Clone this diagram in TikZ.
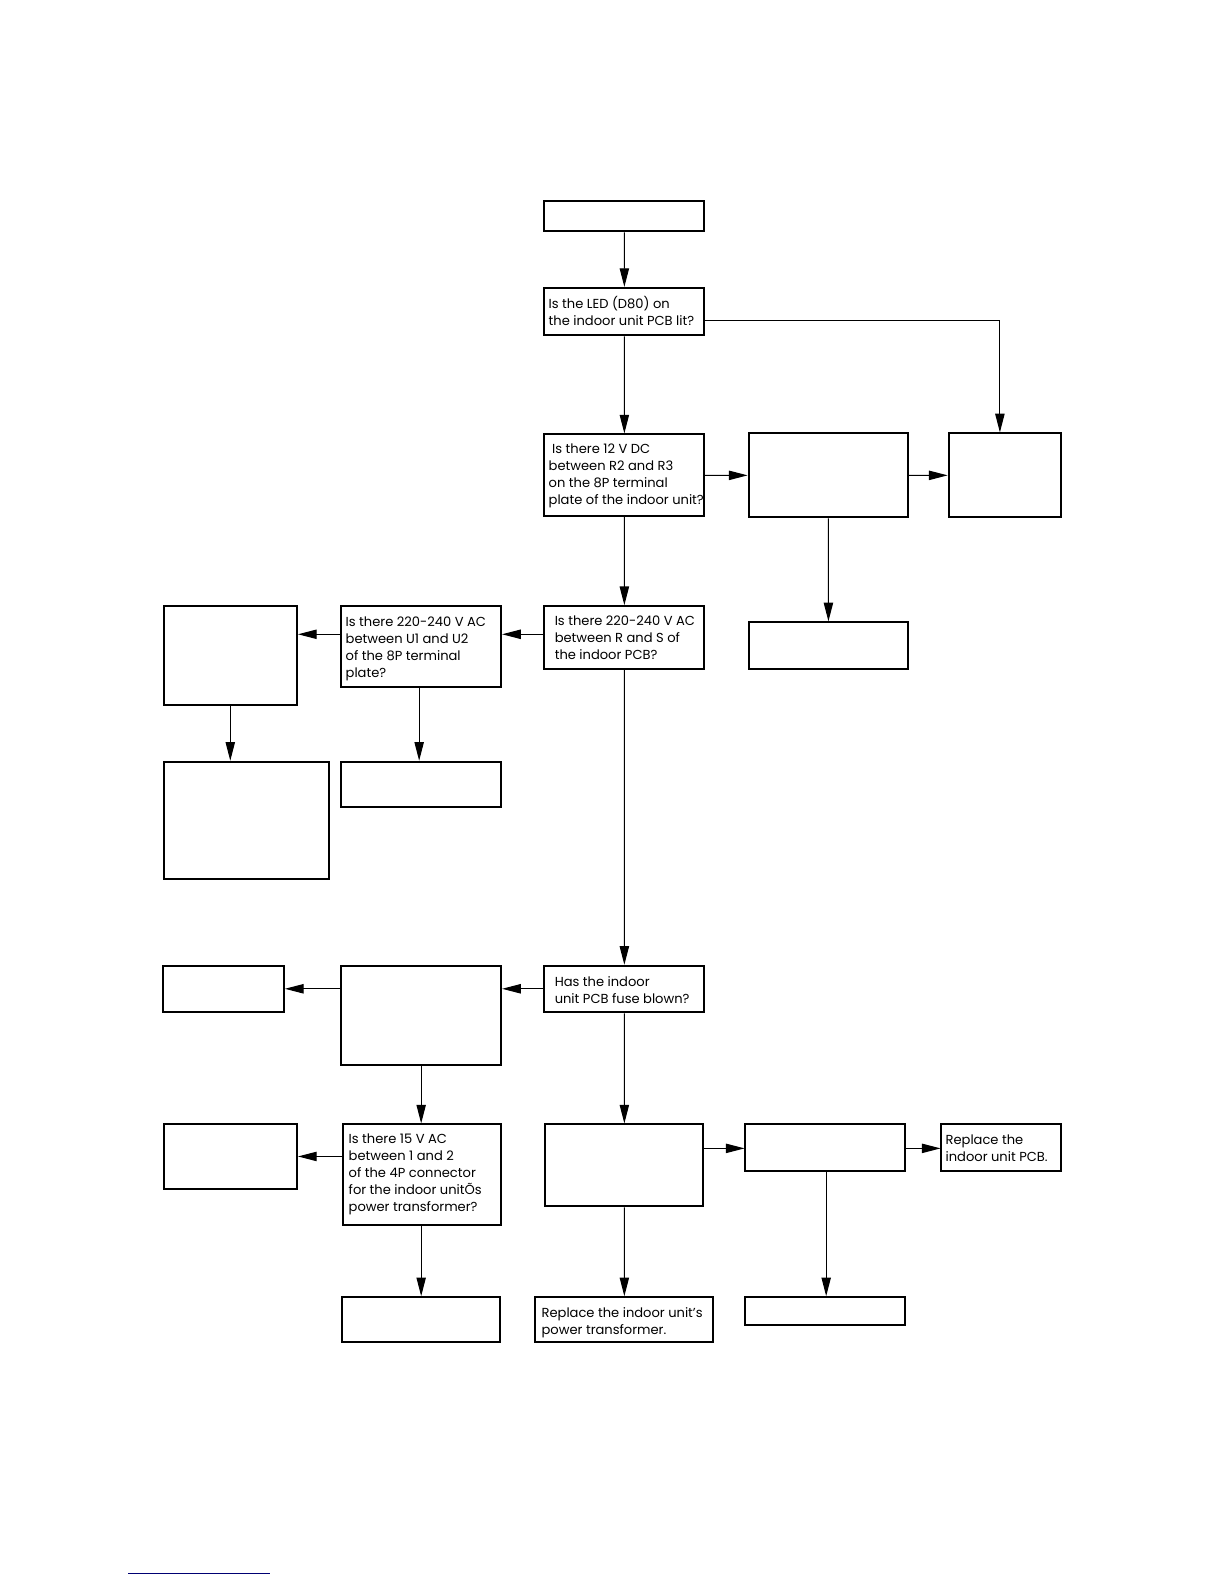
\documentclass[tikz,border=0pt]{standalone}
\usepackage{fontspec}
\setmainfont{Poppins}
\usetikzlibrary{arrows.meta,fit,calc}
\begin{document}
\begin{tikzpicture}[x=0.75pt,y=-0.75pt,
  box/.style={draw, line width=1.5pt, inner sep=0pt},
  arr/.style={line width=0.8pt, -{Triangle[length=14pt,width=7pt]}},
  txt/.style={anchor=north west, inner sep=0pt, align=left, font=\fontsize{9.8}{12.75}\selectfont}]
\useasboundingbox (0,0) rectangle (1224,1584);
\fill[white] (0,0) rectangle (1224,1584);
\begin{scope}[scale=1.01]
% boxes
\node[box, fit={(539,199) (697,229)}] (A) {};
\node[box, fit={(539,285) (697,332)}] (B) {};
\node[box, fit={(539,430) (697,511)}] (C) {};
\node[box, fit={(741,429) (899,512)}] (D) {};
\node[box, fit={(939,429) (1050,512)}] (E) {};
\node[box, fit={(741,616) (899,662)}] (F) {};
\node[box, fit={(539,600) (697,662)}] (G) {};
\node[box, fit={(338,600) (496,680)}] (H) {};
\node[box, fit={(162,600) (294,698)}] (I) {};
\node[box, fit={(162,754) (326,870)}] (J) {};
\node[box, fit={(338,754) (496,799)}] (K) {};
\node[box, fit={(539,956) (697,1002)}] (L) {};
\node[box, fit={(338,956) (496,1054)}] (M) {};
\node[box, fit={(161,956) (281,1002)}] (N) {};
\node[box, fit={(340,1113) (496,1213)}] (O) {};
\node[box, fit={(162,1113) (294,1177)}] (P) {};
\node[box, fit={(540,1113) (696,1194)}] (Q) {};
\node[box, fit={(738,1113) (896,1159)}] (R) {};
\node[box, fit={(932,1113) (1050,1159)}] (S) {};
\node[box, fit={(339,1284) (495,1329)}] (T) {};
\node[box, fit={(530,1284) (706,1329)}] (U) {};
\node[box, fit={(738,1284) (896,1312)}] (V) {};
% texts
\node[txt] (tB) at (543,293) {Is the LED (D80) on\\the indoor unit PCB lit?};
\node[txt] (tC) at (543,439.5) {\ Is there 12 V DC\\between R2 and R3\\on the 8P terminal\\plate of the indoor unit?};
\node[txt] (tG) at (549,609.5) {Is there 220-240 V AC\\between R and S of\\the indoor PCB?};
\node[txt] (tH) at (342,610) {Is there 220-240 V AC\\between U1 and U2\\of the 8P terminal\\plate?};
\node[txt] (tL) at (549,966.5) {Has the indoor\\unit PCB fuse blown?};
\node[txt] (tO) at (345,1122.5) {Is there 15 V AC\\between 1 and 2\\of the 4P connector\\for the indoor unitÕs\\power transformer?};
\node[txt] (tS) at (936,1123) {Replace the\\indoor unit PCB.};
\node[txt] (tU) at (536,1294) {Replace the indoor unit’s\\power transformer.};
% connectors
\draw[arr] (A) -- (B);
\draw[arr] (B.east |- 0,317) -| (E.north -| 990,0);
\draw[arr] (B) -- (C);
\draw[arr] (C) -- (D);
\draw[arr] (D) -- (E);
\draw[arr] (D) -- (F);
\draw[arr] (C) -- (G);
\draw[arr] (G.west |- 0,628) -- (H.east |- 0,628);
\draw[arr] (H.west |- 0,628) -- (I.east |- 0,628);
\draw[arr] (I.south -| 228,0) -- (J.north -| 228,0);
\draw[arr] (H.south -| 415,0) -- (K.north -| 415,0);
\draw[arr] (G) -- (L);
\draw[arr] (L.west |- 0,979) -- (M.east |- 0,979);
\draw[arr] (M.west |- 0,979) -- (N.east |- 0,979);
\draw[arr] (M.south -| 417,0) -- (O.north -| 417,0);
\draw[arr] (O.west |- 0,1145) -- (P.east |- 0,1145);
\draw[arr] (L) -- (Q);
\draw[arr] (Q.east |- 0,1137) -- (R.west |- 0,1137);
\draw[arr] (R.east |- 0,1137) -- (S.west |- 0,1137);
\draw[arr] (O.south -| 417,0) -- (T.north -| 417,0);
\draw[arr] (Q) -- (U);
\draw[arr] (R.south -| 818,0) -- (V.north -| 818,0);
\draw[blue!45!black, line width=0.6pt] (127,1558) -- (267,1558);
\end{scope}
\end{tikzpicture}
\end{document}
